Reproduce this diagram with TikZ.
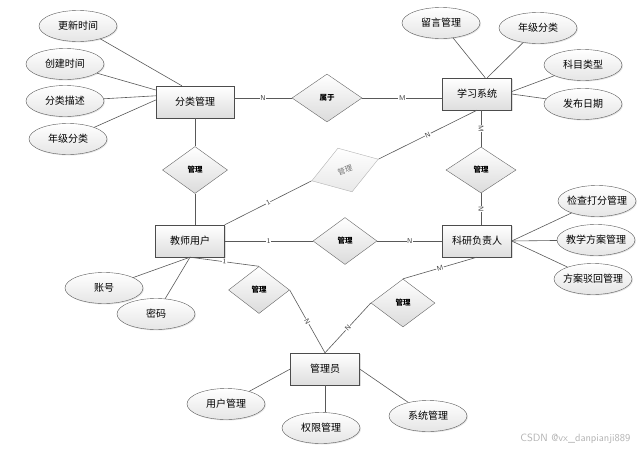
\documentclass[tikz,border=0pt]{standalone}
\usepackage{fontspec}
\newfontfamily\cjk{Noto Sans CJK SC}
\usetikzlibrary{shapes.geometric,shadows}

\tikzset{
  entity/.style={draw=black!70, rectangle, minimum width=69pt, minimum height=32pt, inner sep=0pt,
    top color=white, bottom color=black!13,
    drop shadow={opacity=.25, shadow xshift=1.2pt, shadow yshift=-1.2pt},
    font=\cjk\fontsize{10}{12}\selectfont},
  attr/.style={draw=black!65, ellipse, minimum width=78pt, minimum height=31pt, inner xsep=-10pt, inner ysep=0pt,
    top color=white, bottom color=black!10,
    drop shadow={opacity=.2, shadow xshift=1pt, shadow yshift=-1pt},
    font=\cjk\fontsize{10}{12}\selectfont},
  rel/.style={draw=black!60, diamond, minimum width=64pt, minimum height=47pt, inner sep=0pt,
    top color=white, bottom color=black!14,
    font=\cjk\bfseries\fontsize{7.5}{9}\selectfont},
  relgray/.style={draw=black!30, diamond, minimum width=70pt, minimum height=46pt, inner sep=0pt,
    top color=white, bottom color=black!9, text=black!55,
    font=\cjk\fontsize{7.5}{9}\selectfont},
  lbl/.style={fill=white, inner sep=.6pt, text=black!75, font=\sffamily\fontsize{7}{8}\selectfont},
  conn/.style={draw=black!65, line width=.6pt}
}

\begin{document}
\begin{tikzpicture}[x=1pt, y=-1pt]
	\useasboundingbox (0,0) rectangle (640,450);
	% entities
	\node[entity, minimum width=78pt] (fenlei) at (195,102) {分类管理};
	\node[entity] (xuexi) at (477,94) {学习系统};
	\node[entity] (jiaoshi) at (190,241) {教师用户};
	\node[entity] (keyan) at (477,241) {科研负责人};
	\node[entity] (admin) at (325,369) {管理员};
	% attributes
	\node[attr] (gxsj) at (78,26) {更新时间};
	\node[attr] (cjsj) at (65,64) {创建时间};
	\node[attr] (flms) at (65,101) {分类描述};
	\node[attr] (njfl) at (68,139) {年级分类};
	\node[attr] (lygl) at (441,23) {留言管理};
	\node[attr] (njfltwo) at (538,28) {年级分类};
	\node[attr] (kmlx) at (583,65) {科目类型};
	\node[attr] (fbrq) at (583,104) {发布日期};
	\node[attr] (jcdf) at (597,201) {检查打分管理};
	\node[attr] (jxfa) at (596,240) {教学方案管理};
	\node[attr] (fabh) at (593,279) {方案驳回管理};
	\node[attr] (zh) at (104,288) {账号};
	\node[attr] (mm) at (156,314) {密码};
	\node[attr] (yhgl) at (226,404) {用户管理};
	\node[attr] (qxgl) at (321,428) {权限管理};
	\node[attr] (xtgl) at (428,416) {系统管理};
	% relations
	\node[rel, minimum width=70pt, minimum height=48pt] (shuyu) at (327,98) {属于};
	\node[rel, minimum width=65pt] (glone) at (195,170) {管理};
	\node[rel, minimum width=70pt, minimum height=46pt] (gltwo) at (481,170) {管理};
	\node[rel] (glthree) at (345,241) {管理};
	\node[rel, minimum width=61pt] (glfour) at (259,290) {管理};
	\node[rel, minimum height=48pt] (glfive) at (403,303) {管理};
	\node[relgray, rotate=18] (glgray) at (345,170) {管理};
	% attribute lines
	\draw[conn] (gxsj) -- (fenlei.129);
	\draw[conn] (cjsj) -- (fenlei.163);
	\draw[conn] (flms) -- (fenlei.171);
	\draw[conn] (njfl) -- (fenlei.177);
	\draw[conn] (lygl) -- (xuexi.63);
	\draw[conn] (njfltwo) -- (xuexi.58);
	\draw[conn] (kmlx) -- (xuexi.4);
	\draw[conn] (fbrq) -- (xuexi.0);
	\draw[conn] (jcdf) -- (keyan.east);
	\draw[conn] (jxfa) -- (keyan.east);
	\draw[conn] (fabh) -- (keyan.east);
	\draw[conn] (zh) -- (jiaoshi.south);
	\draw[conn] (mm) -- (jiaoshi.south);
	\draw[conn] (yhgl) -- (admin.west);
	\draw[conn] (admin.south) -- (admin.south |- qxgl.north);
	\draw[conn] (xtgl) -- (admin.east);
	% relation lines
	\draw[conn] (fenlei.east |- shuyu) -- node[lbl] {N} (shuyu.west);
	\draw[conn] (shuyu.east) -- node[lbl] {M} (xuexi.west |- shuyu);
	\draw[conn] (fenlei.south) -- (glone.north);
	\draw[conn] (glone.south) -- (glone |- jiaoshi.north);
	\draw[conn] (gltwo |- xuexi.south) -- node[lbl, sloped] {M} (gltwo.north);
	\draw[conn] (gltwo.south) -- node[lbl, sloped] {N} (gltwo |- keyan.north);
	\draw[conn] (jiaoshi.east) -- node[lbl] {1} (glthree.west);
	\draw[conn] (glthree.east) -- node[lbl] {N} (keyan.west);
	\draw[conn] (jiaoshi.north east) -- node[lbl, sloped] {1} (glgray.west);
	\draw[conn] (glgray.east) -- node[lbl, sloped] {N} (xuexi.south);
	\draw[conn] (jiaoshi.south) -- node[lbl, sloped] {1} (glfour.north);
	\draw[conn] (glfour.east) -- node[lbl, sloped] {N} (admin.north);
	\draw[conn] (keyan.south) -- node[lbl, sloped] {M} (glfive.north);
	\draw[conn] (glfive.west) -- node[lbl, sloped] {N} (admin.north);
	% watermark
	\node[anchor=east, text=black!30, font=\sffamily\fontsize{10.5}{12}\selectfont] (wm) at (634,439) {CSDN @vx\_danpianji889};
\end{tikzpicture}
\end{document}
